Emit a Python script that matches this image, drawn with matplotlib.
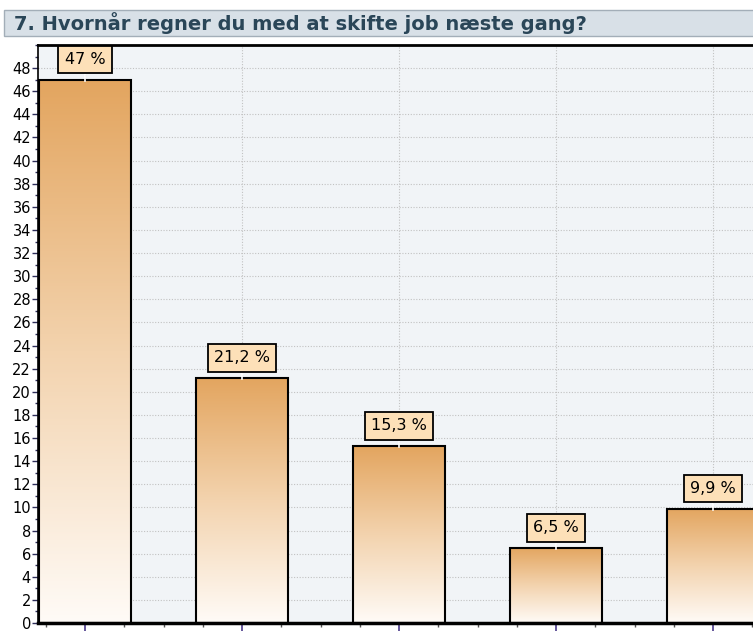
import numpy as np
import matplotlib.pyplot as plt
from matplotlib.patches import Rectangle
from matplotlib.colors import LinearSegmentedColormap

# data
title = "7. Hvornår regner du med at skifte job næste gang?"
values = [47, 21.2, 15.3, 6.5, 9.9]
value_labels = ["47 %", "21,2 %", "15,3 %", "6,5 %", "9,9 %"]
yticks = list(range(0, 49, 2))

x = np.arange(len(values))
bar_w = 0.59

fig = plt.figure(figsize=(7.53, 6.41), dpi=100)

# title bar
fig.patches.append(Rectangle((4 / 753, 1 - 36 / 641), 1, 26 / 641, transform=fig.transFigure,
                             facecolor='#d8e0e7', edgecolor='#a3aeb8', linewidth=1))
fig.text(14 / 753, 1 - 23.5 / 641, title, fontsize=14, fontweight='bold',
         color='#2a4658', va='center', ha='left')

ax = fig.add_axes([38 / 753, 18 / 641, 5.0 * 157 / 753, 578 / 641])
ax.set_facecolor('#f1f4f7')

cmap = LinearSegmentedColormap.from_list('bar', ['#fffbf7', '#f3d3ae', '#e3a55f'])
grad = np.linspace(0, 1, 256).reshape(-1, 1)
for xi, v in zip(x, values):
    ax.imshow(grad, extent=[xi - bar_w / 2, xi + bar_w / 2, 0, v], origin='lower',
              aspect='auto', cmap=cmap, zorder=2)
ax.bar(x, values, width=bar_w, fill=False, edgecolor='black', linewidth=1.5, zorder=3)

for xi, v, lbl in zip(x, values, value_labels):
    ax.plot([xi, xi], [v - 0.1, v + 0.7], color='white', lw=1.2, zorder=4)
    ax.annotate(lbl, (xi, v), xytext=(0, 14.5), textcoords='offset points',
                ha='center', va='center', fontsize=11.5, zorder=5,
                bbox=dict(boxstyle='square,pad=0.4', fc='#fde0b8', ec='black', lw=1.3))

ax.set_xlim(-0.3, 4.7)
ax.set_ylim(0, 50)
ax.set_yticks(yticks)
ax.set_yticks(range(0, 51), minor=True)
ax.set_xticks(x)
ax.set_xticks(np.arange(-0.25, 4.75, 0.25), minor=True)
ax.set_xticklabels([])
ax.tick_params(axis='y', which='major', length=4, width=1, color='#2e2e5a', labelsize=10.5, pad=1)
ax.tick_params(axis='y', which='minor', length=2, width=1, color='#2e2e5a')
ax.tick_params(axis='x', which='major', length=6, width=1.2, color='#4a3a8a')
ax.tick_params(axis='x', which='minor', length=3, width=1, color='#555555')

ax.grid(True, which='major', color='#c2c2c2', linestyle=(0, (1, 1.5)), linewidth=0.8, zorder=1)
ax.set_axisbelow(True)

ax.spines['left'].set_linewidth(1.2)
ax.spines['top'].set_linewidth(2)
ax.spines['bottom'].set_linewidth(2.5)
ax.spines['right'].set_visible(False)

fig.savefig('out.png', dpi=100)
